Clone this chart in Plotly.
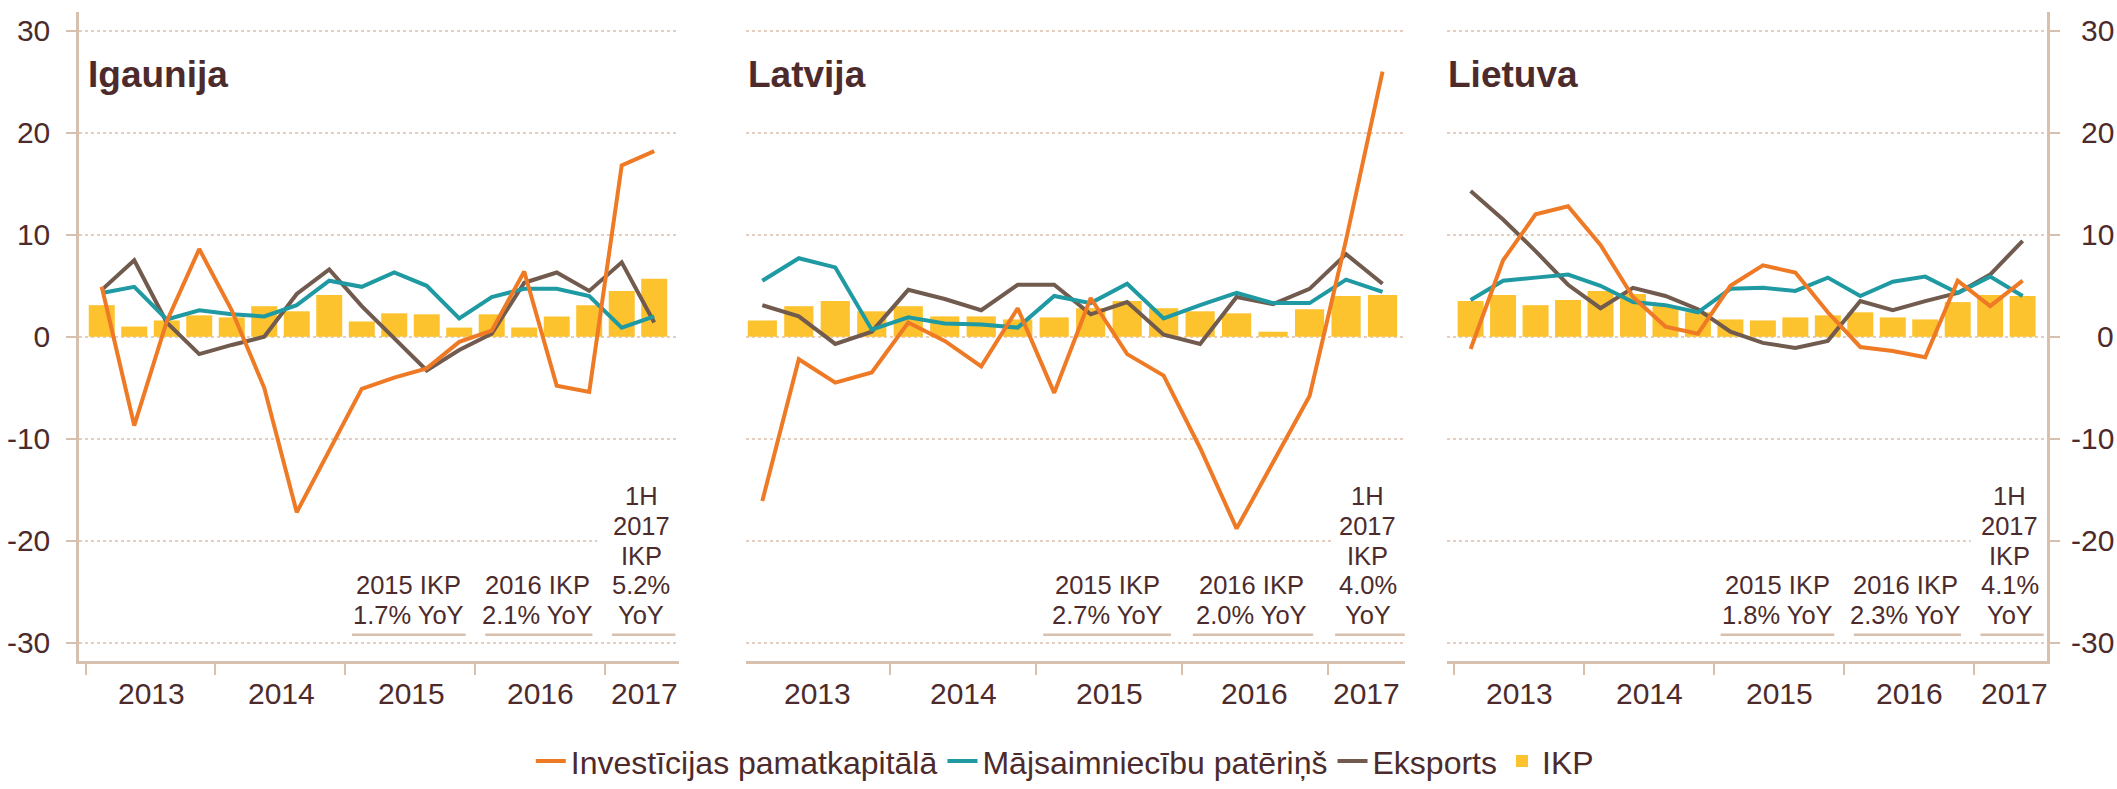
import plotly.graph_objects as go

# ---------------- data ----------------
quarters = ["2013Q1", "2013Q2", "2013Q3", "2013Q4",
            "2014Q1", "2014Q2", "2014Q3", "2014Q4",
            "2015Q1", "2015Q2", "2015Q3", "2015Q4",
            "2016Q1", "2016Q2", "2016Q3", "2016Q4",
            "2017Q1", "2017Q2"]
years = ["2013", "2014", "2015", "2016", "2017"]
countries = ["Igaunija", "Latvija", "Lietuva"]

series_names = ["Investīcijas pamatkapitālā", "Mājsaimniecību patēriņš", "Eksports", "IKP"]

# Igaunija
ikp_ee = [3.1, 1.0, 1.6, 2.1, 1.9, 3.0, 2.5, 4.1, 1.5, 2.3, 2.2, 0.9, 2.2, 0.9, 2.0, 3.1, 4.5, 5.7]
cons_ee = [4.3, 4.9, 1.7, 2.6, 2.2, 2.0, 3.1, 5.5, 4.9, 6.3, 5.0, 1.8, 3.9, 4.7, 4.7, 4.0, 0.9, 2.0]
exp_ee = [4.6, 7.5, 1.4, -1.7, -0.8, 0.0, 4.2, 6.6, 3.0, -0.2, -3.3, -1.3, 0.3, 5.3, 6.3, 4.5, 7.3, 1.4]
inv_ee = [4.9, -8.7, 1.5, 8.6, 2.6, -5.0, -17.2, -11.1, -5.1, -4.0, -3.1, -0.5, 0.6, 6.4, -4.8, -5.4, 16.8, 18.2]

# Latvija
ikp_lv = [1.6, 3.0, 3.5, 2.5, 3.0, 2.0, 2.0, 1.7, 1.9, 2.8, 3.5, 2.8, 2.5, 2.3, 0.5, 2.7, 4.0, 4.1]
cons_lv = [5.5, 7.7, 6.8, 0.7, 1.9, 1.3, 1.2, 0.9, 4.0, 3.3, 5.2, 1.8, 3.1, 4.3, 3.3, 3.3, 5.6, 4.4]
exp_lv = [3.1, 2.0, -0.7, 0.5, 4.6, 3.7, 2.6, 5.1, 5.1, 2.2, 3.4, 0.2, -0.7, 3.9, 3.2, 4.7, 8.1, 5.2]
inv_lv = [-16.1, -2.2, -4.5, -3.5, 1.4, -0.4, -2.9, 2.8, -5.5, 3.8, -1.7, -3.8, -10.9, -18.8, -12.3, -5.8, 9.5, 26.0]

# Lietuva
ikp_lt = [3.5, 4.1, 3.1, 3.6, 4.5, 4.2, 3.0, 2.4, 1.7, 1.6, 1.9, 2.1, 2.4, 1.9, 1.7, 3.4, 4.1, 4.0]
cons_lt = [3.6, 5.5, 5.8, 6.1, 5.0, 3.4, 3.1, 2.4, 4.7, 4.8, 4.5, 5.8, 4.0, 5.4, 5.9, 4.3, 5.9, 4.0]
exp_lt = [14.3, 11.5, 8.4, 5.1, 2.8, 4.8, 4.0, 2.7, 0.5, -0.6, -1.1, -0.4, 3.5, 2.6, 3.5, 4.3, 6.1, 9.4]
inv_lt = [-1.2, 7.5, 12.0, 12.8, 9.0, 3.9, 1.0, 0.3, 5.0, 7.0, 6.3, 2.4, -1.0, -1.4, -2.0, 5.5, 3.0, 5.5]

# yearly GDP growth notes
gdp_2015 = [1.7, 2.7, 1.8]
gdp_2016 = [2.1, 2.0, 2.3]
gdp_1h2017 = [5.2, 4.0, 4.1]

y_ticks = [-30, -20, -10, 0, 10, 20, 30]
y_ticktext = [str(v) for v in y_ticks]

# ---------------- style ----------------
ORANGE = "#EF7A26"
TEAL = "#1F9AA3"
BROWN = "#715A4E"
YELLOW = "#FCC32E"
TEXT = "#4D2B2C"
AXIS = "#D8C0AE"
GRID = "#E3CEC0"
FONT = "Liberation Sans, Arial, sans-serif"

W, H = 2117, 789
x_dom = [(79 / W, 678.6 / W), (745.9 / W, 1404.8 / W), (1446.6 / W, 2047 / W)]
x_rng = [(-0.7, 17.75), (-0.45, 17.61), (-0.74, 17.75)]
y_dom = (1 - 674 / H, 1 - 12 / H)
y_rng = (-31.8, 31.86)
year_lab_x = [[1.52, 5.52, 9.52, 13.5, 16.7],
              [1.51, 5.51, 9.51, 13.5, 16.55],
              [1.51, 5.51, 9.51, 13.5, 16.75]]
gap_start = [15.25, 15.6, 15.4]
title_x = [86 / W, 746 / W, 1446 / W]

data = [
    (inv_ee, cons_ee, exp_ee, ikp_ee),
    (inv_lv, cons_lv, exp_lv, ikp_lv),
    (inv_lt, cons_lt, exp_lt, ikp_lt),
]

xs = list(range(len(quarters)))
boundaries = [i * 4 - 0.5 for i in range(len(years))]

fig = go.Figure()
annotations = []
shapes = []
LW = 4

for p, (inv, cons, exp, ikp) in enumerate(data):
    xa = "x" if p == 0 else f"x{p + 1}"
    ya = "y" if p == 0 else f"y{p + 1}"
    first = p == 0
    fig.add_trace(go.Bar(x=xs, y=ikp, width=0.8, marker=dict(color=YELLOW, line=dict(width=0)),
                         name=series_names[3], showlegend=first, legendrank=4,
                         xaxis=xa, yaxis=ya, hoverinfo="skip"))
    fig.add_trace(go.Scatter(x=xs, y=exp, mode="lines", line=dict(color=BROWN, width=LW),
                             name=series_names[2], showlegend=first, legendrank=3,
                             xaxis=xa, yaxis=ya, cliponaxis=False))
    fig.add_trace(go.Scatter(x=xs, y=cons, mode="lines", line=dict(color=TEAL, width=LW),
                             name=series_names[1], showlegend=first, legendrank=2,
                             xaxis=xa, yaxis=ya, cliponaxis=False))
    fig.add_trace(go.Scatter(x=xs, y=inv, mode="lines", line=dict(color=ORANGE, width=LW),
                             name=series_names[0], showlegend=first, legendrank=1,
                             xaxis=xa, yaxis=ya, cliponaxis=False))

    # panel title
    annotations.append(dict(text=f"<b>{countries[p]}</b>", x=title_x[p], y=1 - 76 / H,
                            xref="paper", yref="paper", xanchor="left", yanchor="middle",
                            showarrow=False, font=dict(size=37, color=TEXT, family=FONT)))
    # year labels
    for yi, yr in enumerate(years):
        annotations.append(dict(text=yr, x=year_lab_x[p][yi], y=1 - 707 / H, xref=xa,
                                yref="paper", xanchor="center", yanchor="middle",
                                showarrow=False, font=dict(size=30, color=TEXT, family=FONT)))
    # yearly GDP notes
    notes = [
        (9.45, ["2015 IKP", f"{gdp_2015[p]:.1f}% YoY"]),
        (13.4, ["2016 IKP", f"{gdp_2016[p]:.1f}% YoY"]),
        (16.6, ["1H", "2017", "IKP", f"{gdp_1h2017[p]:.1f}%", "YoY"]),
    ]
    for cx, lines in notes:
        n = len(lines)
        for li, txt in enumerate(lines):
            yv = -27.25 + (n - 1 - li) * 2.9
            annotations.append(dict(text=txt, x=cx, y=yv, xref=xa, yref=ya,
                                    xanchor="center", yanchor="middle", showarrow=False,
                                    font=dict(size=25.5, color=TEXT, family=FONT)))
    for x0, x1 in [(7.7, 11.2), (11.8, 15.1), (15.7, 17.65)]:
        shapes.append(dict(type="line", xref=xa, yref=ya, x0=x0, x1=x1, y0=-29.2, y1=-29.2,
                           line=dict(color=AXIS, width=2.5), layer="above"))
    shapes.append(dict(type="rect", xref=xa, yref=ya, x0=gap_start[p], x1=x_rng[p][1],
                       y0=-20.6, y1=-19.4, fillcolor="white", line=dict(width=0),
                       layer="between"))

# right-hand y labels (Lietuva)
for v, t in zip(y_ticks, y_ticktext):
    annotations.append(dict(text=t, x=2116 / W, y=v, xref="paper", yref="y3",
                            xanchor="right", yanchor="middle", showarrow=False,
                            font=dict(size=30, color=TEXT, family=FONT)))

layout = dict(
    width=W, height=H,
    margin=dict(l=0, r=0, t=0, b=0),
    paper_bgcolor="white", plot_bgcolor="white",
    font=dict(family=FONT, color=TEXT),
    showlegend=True,
    legend=dict(orientation="h", x=0.503, xanchor="center", y=1 - 776 / H, yanchor="middle",
                font=dict(size=32, color=TEXT, family=FONT), bgcolor="rgba(0,0,0,0)",
                itemwidth=30, traceorder="normal"),
    annotations=annotations,
    shapes=shapes,
    bargap=0.2,
)

for p in range(3):
    xk = "xaxis" if p == 0 else f"xaxis{p + 1}"
    yk = "yaxis" if p == 0 else f"yaxis{p + 1}"
    xa = "x" if p == 0 else f"x{p + 1}"
    ya = "y" if p == 0 else f"y{p + 1}"
    layout[xk] = dict(domain=list(x_dom[p]), range=list(x_rng[p]), anchor=ya,
                      showgrid=False, zeroline=False, showline=True, linecolor=AXIS,
                      linewidth=2.5, ticks="outside", ticklen=11, tickwidth=1.5,
                      tickcolor=AXIS, tickmode="array", tickvals=boundaries,
                      showticklabels=False, fixedrange=True)
    yax = dict(domain=list(y_dom), range=list(y_rng), anchor=xa,
               showgrid=True, gridcolor=GRID, griddash="dot", gridwidth=1.5,
               zeroline=False, tickmode="array", tickvals=y_ticks, ticktext=y_ticktext,
               fixedrange=True)
    if p == 0:
        yax.update(showline=True, linecolor=AXIS, linewidth=2.5, ticks="outside",
                   ticklen=10, tickwidth=1.5, tickcolor=AXIS, showticklabels=True,
                   tickfont=dict(size=30, color=TEXT, family=FONT), ticklabelstandoff=10)
    elif p == 1:
        yax.update(showline=False, ticks="", showticklabels=False)
    else:
        yax.update(side="right", showline=True, linecolor=AXIS, linewidth=2.5,
                   ticks="outside", ticklen=10, tickwidth=1.5, tickcolor=AXIS,
                   showticklabels=False)
    layout[yk] = yax

fig.update_layout(**layout)
fig.write_html("out.html",
               config={"displayModeBar": False},
               post_script="document.body.style.margin='0px';document.body.style.overflow='hidden';")
